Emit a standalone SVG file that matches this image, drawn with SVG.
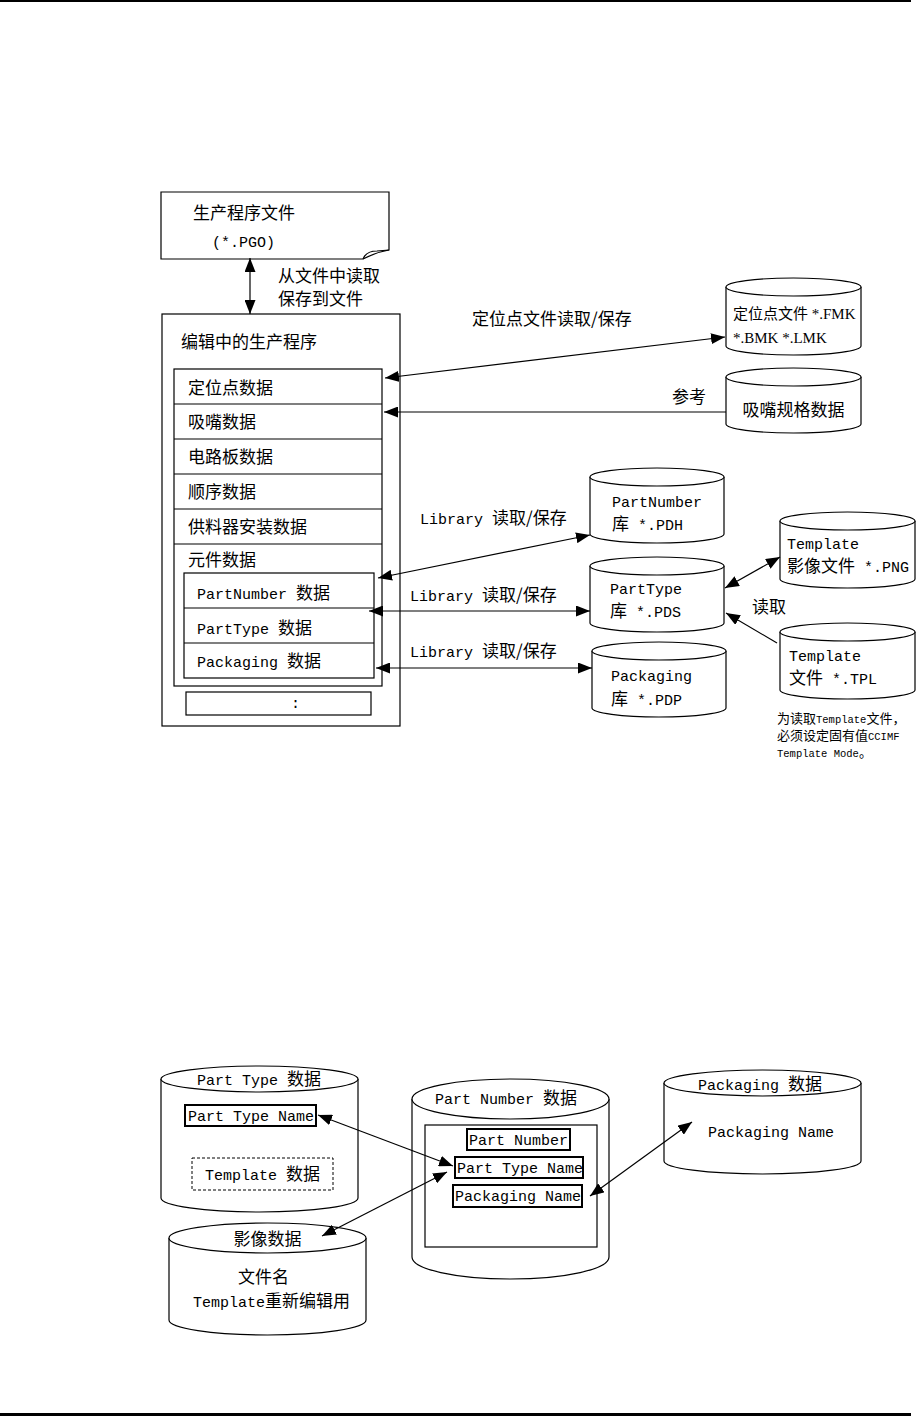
<svg xmlns="http://www.w3.org/2000/svg" width="917" height="1416" viewBox="0 0 917 1416">
<defs>
<style>
text{font-family:"Noto Sans CJK SC",sans-serif;font-size:17px;fill:#000}
.l{font-family:"Liberation Mono",monospace;font-size:15px}
.s{font-family:"Liberation Serif",serif;font-size:15px}
.c15{font-size:15px}
.n{font-size:13px}
.nl{font-family:"Liberation Mono",monospace;font-size:10.5px}
.b{fill:#fff;stroke:#000;stroke-width:1.2}
.k{fill:#fff;stroke:#000;stroke-width:2}
.d{fill:#fff;stroke:#000;stroke-width:1;stroke-dasharray:3 2}
.cn line{stroke:#000;stroke-width:1.2;fill:none}
.dbl{marker-start:url(#ah);marker-end:url(#ah)}
.one{marker-end:url(#ah)}
</style>
<marker id="ah" viewBox="0 0 14 11" refX="14" refY="5.5" markerWidth="14" markerHeight="11" markerUnits="userSpaceOnUse" orient="auto-start-reverse"><path d="M0,0L14,5.5L0,11z" fill="#000"/></marker>
</defs>
<rect width="917" height="1416" fill="#fff"/>
<g id="page-rules">
<rect x="0" y="0" width="911" height="2" fill="#000"/>
<rect x="0" y="1413" width="911" height="3" fill="#000"/>
</g>

<g id="n-pgo">
<path class="b" d="M161,192H389V250Q377,252 363,259H161Z"/>
<path fill="none" stroke="#000" stroke-width="1.2" d="M363,259Q366,251 377,251L389,250"/>
<text x="193" y="219">生产程序文件</text>
<text x="212" y="247" class="l">(*.PGO)</text>
</g>
<text x="278" y="282" font-size="16">从文件中读取</text>
<text x="278" y="305" font-size="16">保存到文件</text>

<g id="n-editing">
<rect class="b" x="162" y="314" width="238" height="412"/>
<text x="181" y="348">编辑中的生产程序</text>
<rect class="b" x="174" y="369" width="208" height="317"/>
<path fill="none" stroke="#000" stroke-width="1.2" d="M174,404H382M174,439H382M174,474H382M174,509H382M174,544H382"/>
<text x="188" y="394">定位点数据</text>
<text x="188" y="428">吸嘴数据</text>
<text x="188" y="463">电路板数据</text>
<text x="188" y="498">顺序数据</text>
<text x="188" y="533">供料器安装数据</text>
<text x="188" y="566">元件数据</text>
<rect class="b" x="184" y="573" width="190" height="105"/>
<path fill="none" stroke="#000" stroke-width="1.2" d="M184,608H374M184,643H374"/>
<text x="197" y="599"><tspan class="l">PartNumber </tspan>数据</text>
<text x="197" y="634"><tspan class="l">PartType </tspan>数据</text>
<text x="197" y="667"><tspan class="l">Packaging </tspan>数据</text>
<rect class="b" x="186" y="692" width="185" height="23"/>
<text x="291" y="708" class="l">:</text>
</g>

<g id="n-fmk">
<path class="b" d="M726,287V346A67.5,9 0 0 0 861,346V287"/>
<ellipse class="b" cx="793.5" cy="287" rx="67.5" ry="9"/>
<text x="733" y="319" class="c15">定位点文件<tspan class="s"> *.FMK</tspan></text>
<text x="733" y="343" class="s">*.BMK  *.LMK</text>
</g>

<g id="n-nozzle">
<path class="b" d="M726,377V424A67.5,9 0 0 0 861,424V377"/>
<ellipse class="b" cx="793.5" cy="377" rx="67.5" ry="9"/>
<text x="793.5" y="416" text-anchor="middle">吸嘴规格数据</text>
</g>

<g id="n-pdh">
<path class="b" d="M590,477V534A67,9 0 0 0 724,534V477"/>
<ellipse class="b" cx="657" cy="477" rx="67" ry="9"/>
<text x="612" y="507" class="l">PartNumber</text>
<text x="612" y="530">库<tspan class="l"> *.PDH</tspan></text>
</g>

<g id="n-pds">
<path class="b" d="M590,566V623A67,9 0 0 0 724,623V566"/>
<ellipse class="b" cx="657" cy="566" rx="67" ry="9"/>
<text x="610" y="594" class="l">PartType</text>
<text x="610" y="617">库<tspan class="l"> *.PDS</tspan></text>
</g>

<g id="n-pdp">
<path class="b" d="M592,651V708A67,9 0 0 0 726,708V651"/>
<ellipse class="b" cx="659" cy="651" rx="67" ry="9"/>
<text x="611" y="681" class="l">Packaging</text>
<text x="611" y="705">库<tspan class="l"> *.PDP</tspan></text>
</g>

<g id="n-png">
<path class="b" d="M780,521V579A67.5,9 0 0 0 915,579V521"/>
<ellipse class="b" cx="847.5" cy="521" rx="67.5" ry="9"/>
<text x="787" y="549" class="l">Template</text>
<text x="787" y="572">影像文件<tspan class="l"> *.PNG</tspan></text>
</g>

<g id="n-tpl">
<path class="b" d="M780,632V690A67.5,9 0 0 0 915,690V632"/>
<ellipse class="b" cx="847.5" cy="632" rx="67.5" ry="9"/>
<text x="789" y="661" class="l">Template</text>
<text x="789" y="684">文件<tspan class="l"> *.TPL</tspan></text>
</g>

<g id="note">
<text x="777" y="723" class="n">为读取<tspan class="nl">Template</tspan>文件，</text>
<text x="777" y="740" class="n">必须设定固有值<tspan class="nl">CCIMF</tspan></text>
<text x="777" y="757" class="n"><tspan class="nl">Template  Mode</tspan>。</text>
</g>

<g id="n-parttype">
<path class="b" d="M161,1079V1198A98.5,14 0 0 0 358,1198V1079"/>
<ellipse class="b" cx="259.5" cy="1079" rx="98.5" ry="13"/>
<text x="259" y="1085" text-anchor="middle"><tspan class="l">Part Type </tspan>数据</text>
<rect class="k" x="185" y="1105" width="131" height="21"/>
<text x="188" y="1121" class="l">Part Type Name</text>
<rect class="d" x="192" y="1158" width="141" height="32"/>
<text x="205" y="1180"><tspan class="l">Template </tspan>数据</text>
</g>

<g id="n-image">
<path class="b" d="M169,1238V1320A98.5,15 0 0 0 366,1320V1238"/>
<ellipse class="b" cx="267.5" cy="1238" rx="98.5" ry="15"/>
<text x="267.5" y="1245" text-anchor="middle">影像数据</text>
<text x="238" y="1283">文件名</text>
<text x="193" y="1307"><tspan class="l">Template</tspan>重新编辑用</text>
</g>

<g id="n-partnumber">
<path class="b" d="M412,1099V1257A98.5,22 0 0 0 609,1257V1099"/>
<ellipse class="b" cx="510.5" cy="1099" rx="98.5" ry="20"/>
<text x="506" y="1104" text-anchor="middle"><tspan class="l">Part Number </tspan>数据</text>
<rect class="b" x="425" y="1125" width="172" height="122"/>
<rect class="k" x="467" y="1129" width="103" height="21"/>
<text x="469" y="1145" class="l">Part Number</text>
<rect class="k" x="455" y="1157" width="128" height="21"/>
<text x="457" y="1173" class="l">Part Type Name</text>
<rect class="k" x="453" y="1185" width="129" height="22"/>
<text x="455" y="1201" class="l">Packaging Name</text>
</g>

<g id="n-packaging">
<path class="b" d="M664,1083V1161A98.5,13 0 0 0 861,1161V1083"/>
<ellipse class="b" cx="762.5" cy="1083" rx="98.5" ry="13"/>
<text x="760" y="1090" text-anchor="middle"><tspan class="l">Packaging </tspan>数据</text>
<text x="708" y="1137" class="l">Packaging Name</text>
</g>

<g id="connectors" class="cn">
<line class="dbl" x1="250" y1="258" x2="250" y2="314"/>
<line class="dbl" x1="725" y1="337" x2="385" y2="378"/>
<line class="one" x1="726" y1="412" x2="384" y2="412"/>
<line class="dbl" x1="590" y1="535" x2="378" y2="578"/>
<line class="dbl" x1="590" y1="611" x2="369" y2="611"/>
<line class="dbl" x1="592" y1="668" x2="376" y2="668"/>
<line class="dbl" x1="725" y1="588" x2="780" y2="557"/>
<line class="one" x1="777" y1="643" x2="726" y2="613"/>
<line class="dbl" x1="318" y1="1115" x2="453" y2="1166"/>
<line class="dbl" x1="447" y1="1172" x2="322" y2="1236"/>
<line class="dbl" x1="590" y1="1196" x2="692" y2="1122"/>
</g>
<g id="labels">
<text x="472" y="325">定位点文件读取/保存</text>
<text x="672" y="403">参考</text>
<text x="420" y="524"><tspan class="l">Library </tspan>读取/保存</text>
<text x="410" y="601"><tspan class="l">Library </tspan>读取/保存</text>
<text x="410" y="657"><tspan class="l">Library </tspan>读取/保存</text>
<text x="752" y="613">读取</text>
</g>
</svg>
